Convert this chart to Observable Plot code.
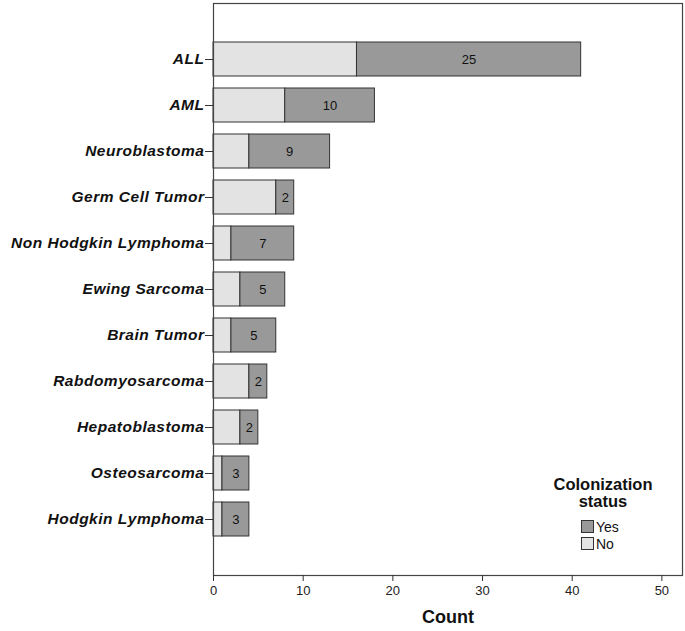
<!DOCTYPE html>
<html>
<head>
<meta charset="utf-8">
<script src="https://cdn.jsdelivr.net/npm/d3@7"></script>
<script src="https://cdn.jsdelivr.net/npm/@observablehq/plot@0.6"></script>
<style>
  html, body { margin: 0; padding: 0; background: #fff; }
  #wrap { position: relative; width: 685px; height: 631px; font-family: "Liberation Sans", Arial, sans-serif; }
  #wrap svg { display: block; }
  g[aria-label="y-axis tick label"] text { font-weight: bold; font-style: italic; font-size: 15.5px; letter-spacing: 0.5px; fill: #111; }
  g[aria-label="x-axis tick label"] text { font-size: 13px; fill: #222; }
  #legend { position: absolute; left: 543px; top: 476px; width: 120px; color: #111; }
  #legend .title { font-weight: bold; font-size: 16.5px; text-align: center; line-height: 17px; }
  #legend .row { display: flex; align-items: center; margin-left: 38px; height: 17px; font-size: 14px; }
  #legend .sw { width: 11px; height: 11px; border: 1px solid #333; margin-right: 2px; }
</style>
</head>
<body>
<div id="wrap"></div>
<script>
const categories = ["ALL", "AML", "Neuroblastoma", "Germ Cell Tumor", "Non Hodgkin Lymphoma",
  "Ewing Sarcoma", "Brain Tumor", "Rabdomyosarcoma", "Hepatoblastoma", "Osteosarcoma", "Hodgkin Lymphoma"];
const noCounts  = [16, 8, 4, 7, 2, 3, 2, 4, 3, 1, 1];
const yesCounts = [25, 10, 9, 2, 7, 5, 5, 2, 2, 3, 3];
const statuses = ["No", "Yes"];
const statusColors = ["#e3e3e3", "#999999"];
const xTicks = [0, 10, 20, 30, 40, 50];
const legendOrder = ["Yes", "No"];

const data = categories.flatMap((c, i) => [
  {cat: c, status: "No", n: noCounts[i]},
  {cat: c, status: "Yes", n: yesCounts[i]}
]);
const yesLabels = categories.map((c, i) => ({cat: c, mid: noCounts[i] + yesCounts[i] / 2, n: yesCounts[i]}));

const chart = Plot.plot({
  width: 685,
  height: 631,
  marginLeft: 213,
  marginRight: 3,
  marginTop: 3,
  marginBottom: 56,
  style: {fontFamily: "'Liberation Sans', Arial, sans-serif", background: "#fff", color: "#333"},
  x: {domain: [0, 52.3]},
  y: {domain: categories, paddingInner: 0.27, paddingOuter: 0.79},
  color: {domain: statuses, range: statusColors},
  marks: [
    Plot.barX(data, {x: "n", y: "cat", fill: "status", stroke: "#333", strokeWidth: 1}),
    Plot.text(yesLabels, {x: "mid", y: "cat", text: d => String(d.n), fontSize: 13, fill: "#111"}),
    Plot.frame({stroke: "#444", strokeWidth: 1.2}),
    Plot.axisX({ticks: xTicks, tickSize: 6, tickPadding: 4, label: null, stroke: "#333"}),
    Plot.axisY({tickSize: 8, tickPadding: 1, label: null, stroke: "#333"}),
    Plot.text(["Count"], {frameAnchor: "bottom", dy: 47, fontWeight: "bold", fontSize: 18, fill: "#111"})
  ]
});

const wrap = document.getElementById("wrap");
wrap.appendChild(chart);

const legend = document.createElement("div");
legend.id = "legend";
const title = document.createElement("div");
title.className = "title";
title.innerHTML = "Colonization<br>status";
legend.appendChild(title);
const spacer = document.createElement("div");
spacer.style.height = "8px";
legend.appendChild(spacer);
legendOrder.forEach(s => {
  const row = document.createElement("div");
  row.className = "row";
  const sw = document.createElement("div");
  sw.className = "sw";
  sw.style.background = statusColors[statuses.indexOf(s)];
  const t = document.createElement("span");
  t.textContent = s;
  row.appendChild(sw);
  row.appendChild(t);
  legend.appendChild(row);
});
wrap.appendChild(legend);
</script>
</body>
</html>
